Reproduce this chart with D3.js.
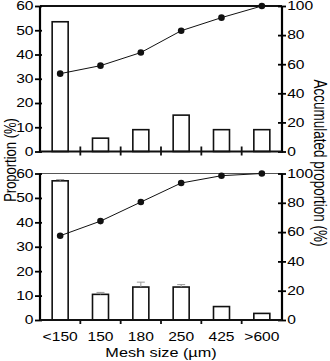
<!DOCTYPE html>
<html>
<head>
<meta charset="utf-8">
<script src="https://cdn.jsdelivr.net/npm/d3@7"></script>
<style>
  body { margin: 0; background: #fff; }
  svg { display: block; }
  text { font-family: "Liberation Sans", Arial, sans-serif; fill: #000; }
</style>
</head>
<body>
<div id="chart"></div>
<script>
// mesh size classes
const categories = ['<150', '150', '180', '250', '425', '>600'];

// top panel
const topProportion = [53.5, 5.5, 9, 15, 9, 9];
const topAccumulated = [53.5, 59, 68, 83, 92, 100];

// bottom panel
const bottomProportion = [57, 10.5, 13.5, 13.5, 5.5, 2.7];
const bottomError = [0.5, 0.8, 2, 1, 0, 0];
const bottomAccumulated = [57.5, 67.5, 80.5, 93.5, 98.5, 100];

const leftTicks = [0, 10, 20, 30, 40, 50, 60];
const rightTicks = [0, 20, 40, 60, 80, 100];

const W = 330;
const H = 361;
const stretch = 1.3; // the original type is set wide
const margin = { left: 40, right: 48 };
const panels = [
  { top: 6, bottom: 151.5, bars: topProportion, err: null, acc: topAccumulated, labels: false },
  { top: 173.5, bottom: 320, bars: bottomProportion, err: bottomError, acc: bottomAccumulated, labels: true },
];

const svg = d3.select('#chart')
  .append('svg')
  .attr('width', W)
  .attr('height', H);

const x = d3.scaleBand()
  .domain(categories)
  .range([margin.left, W - margin.right]);

panels.forEach((p) => {
  const y = d3.scaleLinear().domain([0, 60]).range([p.bottom, p.top]);
  const y2 = d3.scaleLinear().domain([0, 100]).range([p.bottom, p.top]);
  const g = svg.append('g');

  // frame top line
  g.append('line')
    .attr('x1', margin.left)
    .attr('x2', W - margin.right)
    .attr('y1', p.top)
    .attr('y2', p.top)
    .attr('stroke', p.labels ? '#555' : '#111')
    .attr('stroke-width', p.labels ? 1.2 : 2);

  // bars
  const bw = 16;
  g.selectAll('rect.bar')
    .data(p.bars)
    .enter()
    .append('rect')
    .attr('class', 'bar')
    .attr('x', (d, i) => x(categories[i]) + x.bandwidth() / 2 - bw / 2)
    .attr('y', d => y(d))
    .attr('width', bw)
    .attr('height', d => y(0) - y(d))
    .attr('fill', '#fff')
    .attr('stroke', '#111')
    .attr('stroke-width', 1.6);

  // error bars (upper whisker only, faint)
  if (p.err) {
    const eg = g.selectAll('g.err')
      .data(p.bars.map((d, i) => ({ v: d, e: p.err[i], c: categories[i] })).filter(d => d.e > 0))
      .enter()
      .append('g')
      .attr('stroke', '#999')
      .attr('stroke-width', 1);
    eg.append('line')
      .attr('x1', d => x(d.c) + x.bandwidth() / 2)
      .attr('x2', d => x(d.c) + x.bandwidth() / 2)
      .attr('y1', d => y(d.v))
      .attr('y2', d => y(d.v + d.e));
    eg.append('line')
      .attr('x1', d => x(d.c) + x.bandwidth() / 2 - 4)
      .attr('x2', d => x(d.c) + x.bandwidth() / 2 + 4)
      .attr('y1', d => y(d.v + d.e))
      .attr('y2', d => y(d.v + d.e));
  }

  // accumulated line
  const line = d3.line()
    .x((d, i) => x(categories[i]) + x.bandwidth() / 2)
    .y(d => y2(d));
  g.append('path')
    .datum(p.acc)
    .attr('d', line)
    .attr('fill', 'none')
    .attr('stroke', '#111')
    .attr('stroke-width', 1);
  g.selectAll('circle.dot')
    .data(p.acc)
    .enter()
    .append('circle')
    .attr('class', 'dot')
    .attr('cx', (d, i) => x(categories[i]) + x.bandwidth() / 2)
    .attr('cy', d => y2(d))
    .attr('r', 3.3)
    .attr('fill', '#111');

  // left axis
  const la = g.append('g')
    .attr('transform', `translate(${margin.left},0)`)
    .call(d3.axisLeft(y).tickValues(leftTicks).tickSize(5).tickPadding(0));
  la.select('.domain').attr('stroke-width', 2.2).attr('d', `M0,${p.top}V${p.bottom + 1}`);
  la.selectAll('.tick line').attr('stroke-width', 1.8).attr('x2', -5).attr('x1', 2);
  la.selectAll('.tick text')
    .attr('font-size', 12)
    .attr('fill', '#000')
    .attr('transform', `scale(${stretch},1)`);

  // right axis
  const ra = g.append('g')
    .attr('transform', `translate(${W - margin.right},0)`)
    .call(d3.axisRight(y2).tickValues(rightTicks).tickSize(4).tickPadding(0));
  ra.select('.domain').attr('stroke-width', 2.2).attr('d', `M0,${p.top}V${p.bottom + 1}`);
  ra.selectAll('.tick line').attr('stroke-width', 1.8).attr('x1', -4);
  ra.selectAll('.tick text')
    .attr('font-size', 12)
    .attr('fill', '#000')
    .attr('transform', `scale(${stretch},1)`);

  // bottom axis with ticks at class boundaries
  const bounds = categories.slice(1).map(c => x(c));
  g.append('line')
    .attr('x1', margin.left)
    .attr('x2', W - margin.right)
    .attr('y1', p.bottom)
    .attr('y2', p.bottom)
    .attr('stroke', '#111')
    .attr('stroke-width', 2.2);
  g.selectAll('line.xtick')
    .data(bounds)
    .enter()
    .append('line')
    .attr('class', 'xtick')
    .attr('x1', d => d)
    .attr('x2', d => d)
    .attr('y1', p.labels ? p.bottom : p.bottom - 5)
    .attr('y2', p.bottom + 4)
    .attr('stroke', '#111')
    .attr('stroke-width', 1.8);

  if (p.labels) {
    g.selectAll('text.xlab')
      .data(categories)
      .enter()
      .append('text')
      .attr('class', 'xlab')
      .attr('transform', d => `translate(${x(d) + x.bandwidth() / 2},${p.bottom + 21}) scale(${stretch},1)`)
      .attr('text-anchor', 'middle')
      .attr('font-size', 12)
      .text(d => d);
  }
});

// axis titles
svg.append('text')
  .attr('transform', `translate(${(margin.left + W - margin.right) / 2},357) scale(${stretch},1)`)
  .attr('text-anchor', 'middle')
  .attr('font-size', 12.5)
  .text('Mesh size (µm)');

svg.append('text')
  .attr('transform', `translate(15.5,160) scale(${stretch},1) rotate(-90)`)
  .attr('text-anchor', 'middle')
  .attr('font-size', 13)
  .text('Proportion (%)');

svg.append('text')
  .attr('transform', `translate(314,163) scale(${stretch},1) rotate(90)`)
  .attr('text-anchor', 'middle')
  .attr('font-size', 13.5)
  .text('Accumulated proportion (%)');
</script>
</body>
</html>
